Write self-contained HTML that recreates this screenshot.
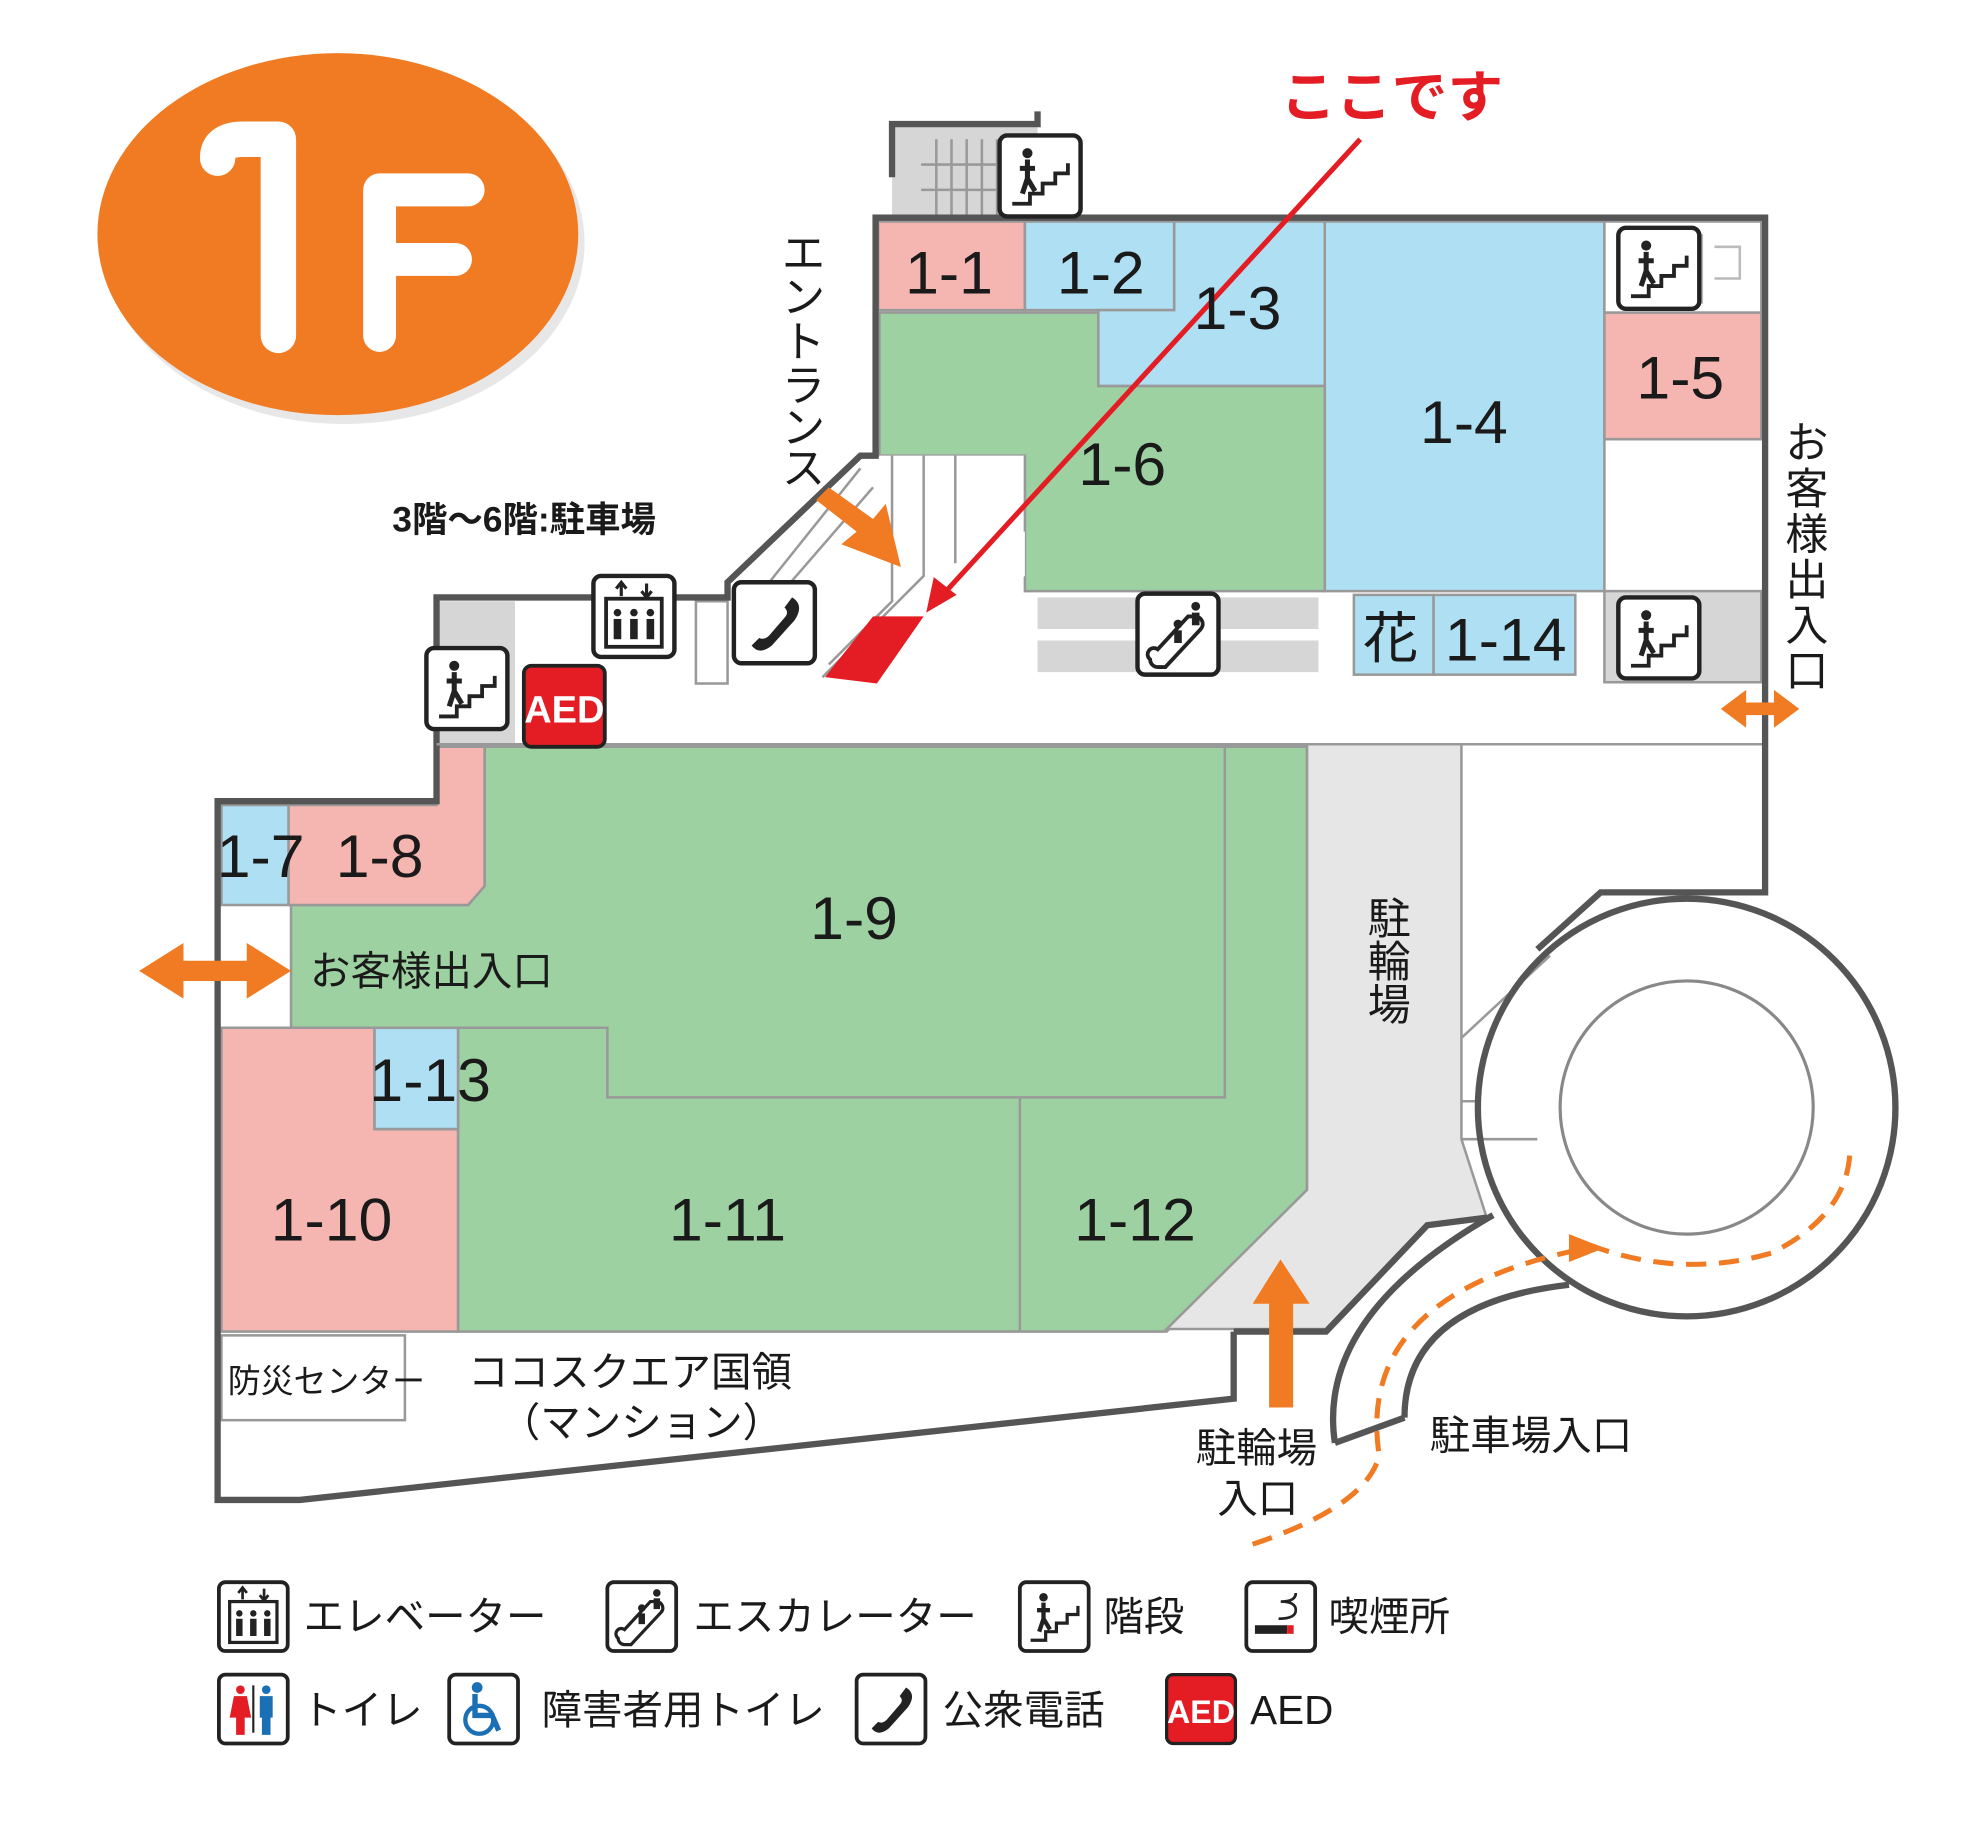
<!DOCTYPE html>
<html><head><meta charset="utf-8"><style>
html,body{margin:0;padding:0;background:#fff;}
svg{display:block;}
text{font-family:"Liberation Sans","Noto Sans CJK JP",sans-serif;}
.n{font-size:48px;fill:#1a1a1a;text-anchor:middle;}
.j{font-family:"Liberation Sans","Noto Sans CJK JP",sans-serif;fill:#1a1a1a;}
</style></head><body>
<svg width="1984" height="1848" viewBox="0 0 1568 1460" preserveAspectRatio="none" xmlns="http://www.w3.org/2000/svg">
<defs>
<g id="stair"><rect x="0" y="0" width="64" height="64" rx="6" fill="#fff" stroke="#222" stroke-width="3.5"/><path d="M10 54 H24 V46 H34 V38 H44 V30 H54 V22" fill="none" stroke="#222" stroke-width="3"/><circle cx="22" cy="14" r="4" fill="#222"/><path d="M22 19 L22 34 L18 46 M22 34 L28 44 M16 26 L28 26" stroke="#222" stroke-width="4" fill="none"/></g>
<g id="elev"><rect x="0" y="0" width="64" height="64" rx="6" fill="#fff" stroke="#222" stroke-width="3.5"/><rect x="10" y="18" width="44" height="38" fill="none" stroke="#222" stroke-width="3"/><path d="M22 6 v10 M18 10 l4-5 4 5 M42 6 v10 M38 12 l4 5 4-5" stroke="#222" stroke-width="2.5" fill="none"/><g fill="#222"><rect x="16" y="34" width="6" height="16"/><rect x="29" y="34" width="6" height="16"/><rect x="42" y="34" width="6" height="16"/><circle cx="19" cy="29" r="3"/><circle cx="32" cy="29" r="3"/><circle cx="45" cy="29" r="3"/></g></g>
<g id="esc"><rect x="0" y="0" width="64" height="64" rx="6" fill="#fff" stroke="#222" stroke-width="3.5"/><path d="M10 52 a6 6 0 0 0 6 6 H22 L50 28 a6 6 0 0 0-4-10 H40 L16 44 a5 5 0 0 0-6 8z" fill="none" stroke="#222" stroke-width="3"/><circle cx="32" cy="24" r="3.5" fill="#222"/><rect x="29" y="29" width="6" height="10" fill="#222"/><circle cx="46" cy="10" r="3.5" fill="#222"/><rect x="43" y="15" width="6" height="10" fill="#222"/></g>
<g id="tel"><rect x="0" y="0" width="64" height="64" rx="6" fill="#fff" stroke="#222" stroke-width="3.5"/><path d="M46 12 q10 6 2 18 L30 50 q-10 8-16 0 l6-6 q4 2 8-2 L40 28 q4-4 0-8z" fill="#222"/></g>
<g id="aed"><rect x="0" y="0" width="64" height="64" rx="6" fill="#e31d23" stroke="#222" stroke-width="3"/><text x="32" y="45" font-size="30" font-weight="bold" fill="#fff" text-anchor="middle" style="font-family:'Liberation Sans Narrow','Liberation Sans',sans-serif">AED</text></g>
<g id="smk"><rect x="0" y="0" width="64" height="64" rx="6" fill="#fff" stroke="#222" stroke-width="3.5"/><rect x="8" y="40" width="30" height="8" fill="#222"/><rect x="38" y="40" width="6" height="8" fill="#e31d23"/><path d="M30 34 q16 0 16-8 q0-8-14-8 q14 0 14-8" fill="none" stroke="#222" stroke-width="2.5"/></g>
<g id="wc"><rect x="0" y="0" width="64" height="64" rx="6" fill="#fff" stroke="#222" stroke-width="3.5"/><circle cx="20" cy="14" r="4" fill="#e31d23"/><path d="M14 20 h12 l4 20 h-6 v16 h-8 v-16 h-6z" fill="#e31d23"/><rect x="31" y="10" width="2" height="44" fill="#222"/><circle cx="44" cy="14" r="4" fill="#1b6fb5"/><path d="M38 20 h12 v20 h-2 v16 h-8 v-16 h-2z" fill="#1b6fb5"/></g>
<g id="hwc"><rect x="0" y="0" width="64" height="64" rx="6" fill="#fff" stroke="#222" stroke-width="3.5"/><circle cx="26" cy="12" r="5" fill="#1b6fb5"/><circle cx="28" cy="42" r="13" fill="none" stroke="#1b6fb5" stroke-width="4"/><path d="M24 18 v20 h16 l6 14" fill="none" stroke="#1b6fb5" stroke-width="5"/></g>
</defs>

<ellipse cx="272" cy="192" rx="190" ry="143" fill="#bbb" opacity="0.35"/>
<ellipse cx="267" cy="185" rx="190" ry="143" fill="#f07b22"/>
<path d="M172 125 q0-15 20-15 h28 v155" stroke="#fff" stroke-width="28" fill="none" stroke-linecap="round" stroke-linejoin="round"/>
<path d="M300 265 V150 h70 M300 205 h60" stroke="#fff" stroke-width="26" fill="none" stroke-linecap="round" stroke-linejoin="round"/>

<rect x="705" y="98" width="115" height="74" fill="#d6d6d6"/>
<g stroke="#999" stroke-width="2"><path d="M740 110 v62 M752 110 v62 M764 110 v62 M776 110 v62 M788 110 v62 M728 130 h90 M728 150 h90"/></g>
<path d="M705 140 V98 H820 V88" fill="none" stroke="#555" stroke-width="5"/>

<rect x="694" y="175" width="116" height="70" fill="#f5b5b0" stroke="#999" stroke-width="2"/>
<rect x="810" y="175" width="118" height="70" fill="#aedff3" stroke="#999" stroke-width="2"/>
<path d="M928 175 H1047 V305 H868 V245 H928z" fill="#aedff3" stroke="#999" stroke-width="2"/>
<rect x="1047" y="175" width="221" height="292" fill="#aedff3" stroke="#999" stroke-width="2"/>
<rect x="1268" y="175" width="124" height="72" fill="#fff" stroke="#999" stroke-width="2"/>
<g stroke="#bbb" stroke-width="2" fill="none"><path d="M1345 185 v55 M1355 195 h20 v25 h-20"/></g>
<rect x="1268" y="247" width="124" height="100" fill="#f5b5b0" stroke="#999" stroke-width="2"/>
<path d="M695 247 H868 V305 H1047 V467 H810 V360 H695z" fill="#9dd1a2" stroke="#999" stroke-width="2"/>
<rect x="1268" y="467" width="124" height="72" fill="#d6d6d6" stroke="#999" stroke-width="2"/>
<rect x="1070" y="470" width="63" height="63" fill="#aedff3" stroke="#999" stroke-width="2"/>
<rect x="1133" y="470" width="112" height="63" fill="#aedff3" stroke="#999" stroke-width="2"/>
<rect x="820" y="472" width="222" height="25" fill="#d6d6d6"/>
<rect x="820" y="506" width="222" height="25" fill="#d6d6d6"/>

<path d="M695 360 H810 V455 L730 520 H650 Z" fill="#fff"/>
<g stroke="#999" stroke-width="2" fill="none">
<path d="M705 360 V475 L655 525 M730 360 V455 L650 535 M755 360 V445 M810 360 V420 M680 370 L600 470 M690 385 L612 475"/>
</g>
<path d="M652 535 L690 487 H730 L693 540z" fill="#e31d23"/>

<rect x="345" y="475" width="62" height="112" fill="#d6d6d6"/>
<rect x="550" y="475" width="25" height="65" fill="#fff" stroke="#999" stroke-width="2"/>

<path d="M383 590 H1033 V940 L922 1052 H362 V892 H296 V812 H230 V715 H370 L383 700z" fill="#9dd1a2" stroke="#999" stroke-width="2"/>
<path d="M968 590 V867 H480 V812 H362 V892 M806 867 V1052" fill="none" stroke="#999" stroke-width="2"/>
<path d="M228 636 H345 V590 H383 V700 L370 715 H228z" fill="#f5b5b0" stroke="#999" stroke-width="2"/>
<rect x="175" y="636" width="53" height="79" fill="#aedff3" stroke="#999" stroke-width="2"/>
<path d="M175 812 H296 V892 H362 V1052 H175z" fill="#f5b5b0" stroke="#999" stroke-width="2"/>
<rect x="296" y="812" width="66" height="80" fill="#aedff3" stroke="#999" stroke-width="2"/>
<path d="M1033 588 H1155 V900 L1175 962 L1128 968 L1048 1050 H922 L1033 940z" fill="#e6e6e7" stroke="#999" stroke-width="2"/>
<path d="M1155 588 H1393 M1155 820 L1225 755 M1155 900 H1215 M1155 870 H1170" stroke="#999" stroke-width="2" fill="none"/>
<rect x="175" y="1055" width="145" height="67" fill="#fff" stroke="#999" stroke-width="2"/>

<path d="M975 1052 V1105 L237 1185 H172 V633 H345 V472 H575 V460 L680 360 H692 V172 H1395 V705 H1265 L1215 750" fill="none" stroke="#555" stroke-width="5" stroke-linejoin="miter"/>
<path d="M975 1052 H1048 L1128 968 L1175 962" fill="none" stroke="#555" stroke-width="5"/>
<path d="M345 588 H1033" stroke="#999" stroke-width="2"/>
<circle cx="1333" cy="875" r="165" fill="none" stroke="#555" stroke-width="5"/>
<circle cx="1333" cy="875" r="100" fill="none" stroke="#888" stroke-width="2.5"/>
<path d="M1055 1140 Q1040 1040 1180 960" fill="none" stroke="#555" stroke-width="5"/>
<path d="M1110 1120 Q1110 1030 1240 1015" fill="none" stroke="#555" stroke-width="5"/>
<path d="M1055 1140 L1110 1120" stroke="#555" stroke-width="5"/>

<path d="M990 1220 Q1080 1190 1090 1150 Q1070 1020 1260 985 Q1330 1010 1400 990 Q1460 960 1462 910" fill="none" stroke="#f07b22" stroke-width="4" stroke-dasharray="16 10"/>
<path d="M1240 975 L1268 986 L1240 997z" fill="#f07b22"/>
<path d="M1003 1112 V1030 H990 L1012 995 L1035 1030 H1022 V1112z" fill="#f07b22"/>
<path d="M110 767 L145 745 V759 H195 V745 L230 767 L195 789 V775 H145 V789z" fill="#f07b22"/>
<path d="M1360 560 L1380 545 V555 H1402 V545 L1422 560 L1402 575 V565 H1380 V575z" fill="#f07b22"/>
<path d="M655 385 L690 410 L700 398 L712 448 L665 430 L677 420 L645 395z" fill="#f07b22"/>

<path d="M1075 110 L745 470" stroke="#e31d23" stroke-width="4"/>
<path d="M732 484 L738 456 L756 470z" fill="#e31d23"/>
<text x="1012" y="92" font-size="44" font-weight="bold" class="j" style="fill:#e31d23">ここです</text>

<use href="#stair" x="790" y="107"/>
<use href="#stair" x="1279" y="180"/>
<use href="#stair" x="1279" y="472"/>
<use href="#stair" x="337" y="512"/>
<use href="#elev" x="469" y="455"/>
<use href="#tel" x="580" y="460"/>
<use href="#aed" x="414" y="526"/>
<use href="#esc" x="899" y="469"/>

<text class="n" x="750" y="232">1-1</text>
<text class="n" x="870" y="232">1-2</text>
<text class="n" x="978" y="260">1-3</text>
<text class="n" x="1157" y="350">1-4</text>
<text class="n" x="1328" y="315">1-5</text>
<text class="n" x="887" y="383">1-6</text>
<text class="n" x="206" y="693">1-7</text>
<text class="n" x="300" y="693">1-8</text>
<text class="n" x="675" y="742">1-9</text>
<text class="n" x="262" y="980">1-10</text>
<text class="n" x="575" y="980">1-11</text>
<text class="n" x="897" y="980">1-12</text>
<text class="n" x="340" y="870">1-13</text>
<text class="n" x="1190" y="522">1-14</text>
<text class="j" x="1077" y="520" font-size="44">花</text>

<text class="j" x="310" y="420" font-size="28" font-weight="bold">3階〜6階:駐車場</text>
<text class="j" x="245" y="778" font-size="32">お客様出入口</text>
<text class="j" x="180" y="1100" font-size="26">防災センター</text>
<text class="j" x="370" y="1095" font-size="32">ココスクエア国領</text>
<text class="j" x="395" y="1135" font-size="32">（マンション）</text>
<text class="j" x="945" y="1155" font-size="32">駐輪場</text>
<text class="j" x="962" y="1195" font-size="32">入口</text>
<text class="j" x="1130" y="1145" font-size="32">駐車場入口</text>
<g class="j" font-size="34" text-anchor="middle">
<text x="635" y="212">エ</text><text x="635" y="247">ン</text><text x="635" y="282">ト</text><text x="635" y="317">ラ</text><text x="635" y="350">ン</text><text x="635" y="382">ス</text>
<text x="1428" y="362">お</text><text x="1428" y="398">客</text><text x="1428" y="434">様</text><text x="1428" y="470">出</text><text x="1428" y="506">入</text><text x="1428" y="542">口</text>
<text x="1098" y="738">駐</text><text x="1098" y="772">輪</text><text x="1098" y="806">場</text>
</g>

<g transform="translate(173,1250) scale(0.85)"><use href="#elev"/></g>
<text class="j" x="240" y="1288" font-size="32">エレベーター</text>
<g transform="translate(480,1250) scale(0.85)"><use href="#esc"/></g>
<text class="j" x="548" y="1288" font-size="32">エスカレーター</text>
<g transform="translate(806,1250) scale(0.85)"><use href="#stair"/></g>
<text class="j" x="872" y="1288" font-size="32">階段</text>
<g transform="translate(985,1250) scale(0.85)"><use href="#smk"/></g>
<text class="j" x="1050" y="1288" font-size="32">喫煙所</text>
<g transform="translate(173,1323) scale(0.85)"><use href="#wc"/></g>
<text class="j" x="238" y="1362" font-size="32">トイレ</text>
<g transform="translate(355,1323) scale(0.85)"><use href="#hwc"/></g>
<text class="j" x="428" y="1362" font-size="32">障害者用トイレ</text>
<g transform="translate(677,1323) scale(0.85)"><use href="#tel"/></g>
<text class="j" x="745" y="1362" font-size="32">公衆電話</text>
<g transform="translate(922,1323) scale(0.85)"><use href="#aed"/></g>
<text class="j" x="988" y="1362" font-size="32">AED</text>
</svg>
</body></html>
